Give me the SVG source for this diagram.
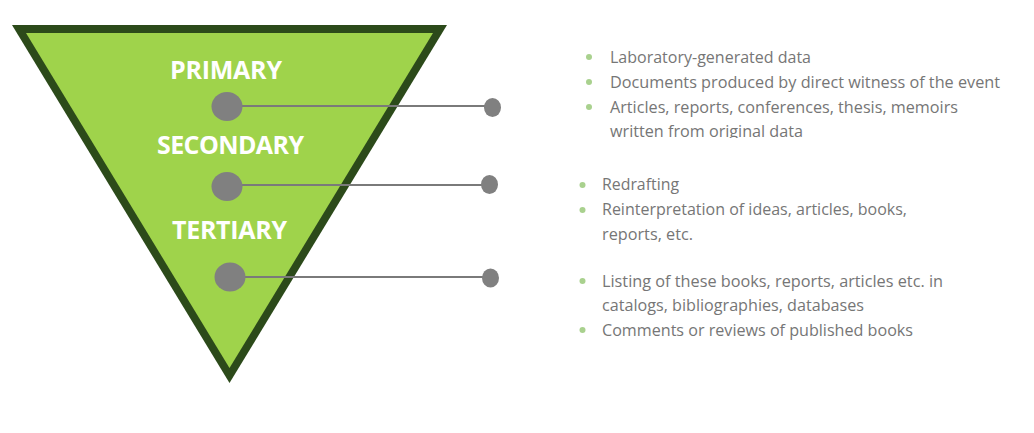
<svg xmlns="http://www.w3.org/2000/svg" width="1034" height="433" viewBox="0 0 1034 433">
<style>
.lbl{font-family:"Open Sans","Liberation Sans",sans-serif;font-weight:700;font-size:25px;fill:#ffffff;text-anchor:middle}
.txt{font-family:"Open Sans","Liberation Sans",sans-serif;font-size:16px;fill:#767676}
.bul{fill:#a9d18e}
.dot{fill:#808080}
.con{stroke:#7a7a7a;stroke-width:2;fill:none}
</style>
<defs>
<clipPath id="clip1"><rect x="560" y="30" width="474" height="108"/></clipPath>
</defs>
<g id="triangle">
<polygon points="12,25 447,25 229.5,383" fill="#2c4a1a"/>
<polygon points="26,33 433,33 229.5,368" fill="#9fd34b"/>
</g>
<g id="connectors">
<line class="con" x1="227" y1="106" x2="492" y2="106"/>
<line class="con" x1="227" y1="185" x2="489" y2="185"/>
<line class="con" x1="230" y1="277" x2="490" y2="277"/>
</g>
<g id="primary">
<text class="lbl" x="226" y="79" textLength="112">PRIMARY</text>
<ellipse class="dot" cx="227" cy="106.5" rx="15.5" ry="14.5"/>
<ellipse class="dot" cx="492.5" cy="107.5" rx="8.5" ry="9.5"/>
</g>
<g id="secondary">
<text class="lbl" x="230.5" y="154" textLength="147">SECONDARY</text>
<ellipse class="dot" cx="227" cy="186.5" rx="15.5" ry="14.5"/>
<ellipse class="dot" cx="489.5" cy="184.5" rx="8.5" ry="9.5"/>
</g>
<g id="tertiary">
<text class="lbl" x="229.5" y="239" textLength="115">TERTIARY</text>
<ellipse class="dot" cx="230" cy="277" rx="15.5" ry="14.5"/>
<ellipse class="dot" cx="490.5" cy="278" rx="8.5" ry="9.5"/>
</g>
<g id="primary-text" clip-path="url(#clip1)">
<circle class="bul" cx="589" cy="57" r="3"/>
<circle class="bul" cx="589" cy="82" r="3"/>
<circle class="bul" cx="589" cy="107" r="3"/>
<text class="txt" x="610" y="62.5" textLength="201" lengthAdjust="spacingAndGlyphs">Laboratory-generated data</text>
<text class="txt" x="610" y="87.5" textLength="390" lengthAdjust="spacingAndGlyphs">Documents produced by direct witness of the event</text>
<text class="txt" x="610" y="112.5" textLength="348" lengthAdjust="spacingAndGlyphs">Articles, reports, conferences, thesis, memoirs</text>
<text class="txt" x="610" y="137" textLength="193" lengthAdjust="spacingAndGlyphs">written from original data</text>
</g>
<g id="secondary-text">
<circle class="bul" cx="582.5" cy="185" r="3"/>
<circle class="bul" cx="582.5" cy="210" r="3"/>
<text class="txt" x="602" y="190" textLength="77" lengthAdjust="spacingAndGlyphs">Redrafting</text>
<text class="txt" x="602" y="215" textLength="305" lengthAdjust="spacingAndGlyphs">Reinterpretation of ideas, articles, books,</text>
<text class="txt" x="602" y="239.5" textLength="91" lengthAdjust="spacingAndGlyphs">reports, etc.</text>
</g>
<g id="tertiary-text">
<circle class="bul" cx="582.5" cy="281" r="3"/>
<circle class="bul" cx="582.5" cy="330" r="3"/>
<text class="txt" x="602" y="287" textLength="341" lengthAdjust="spacingAndGlyphs">Listing of these books, reports, articles etc. in</text>
<text class="txt" x="602" y="311" textLength="262" lengthAdjust="spacingAndGlyphs">catalogs, bibliographies, databases</text>
<text class="txt" x="602" y="336" textLength="311" lengthAdjust="spacingAndGlyphs">Comments or reviews of published books</text>
</g>
</svg>
